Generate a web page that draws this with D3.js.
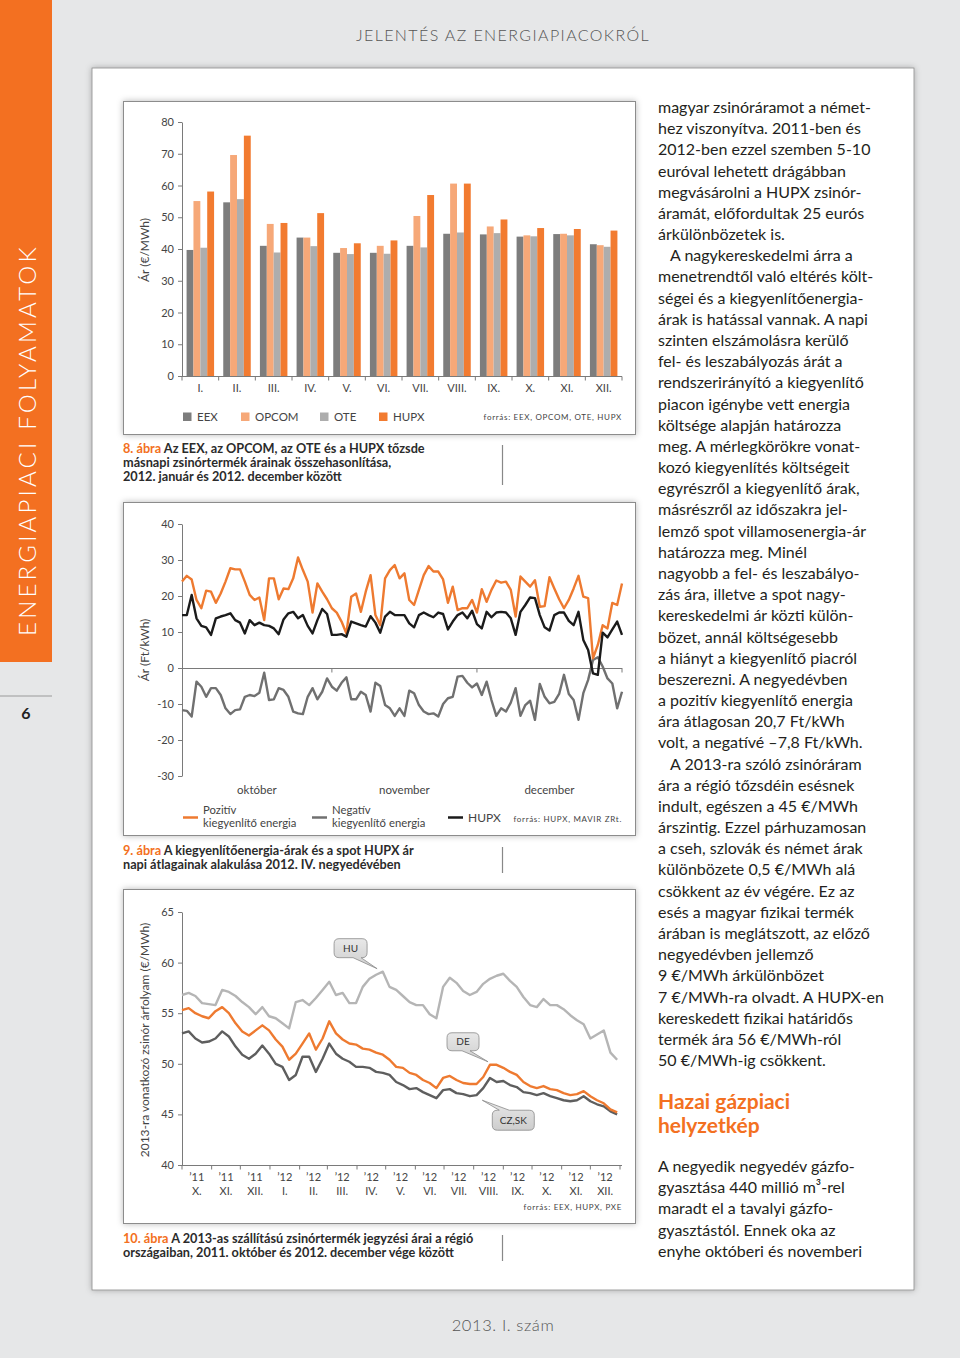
<!DOCTYPE html>
<html>
<head>
<meta charset="utf-8">
<script src="https://cdn.jsdelivr.net/npm/d3@7"></script>
<style>
body { margin: 0; background: #e6e7e8; }
svg { display: block; }
text { font-family: Lato, "Open Sans", sans-serif; }
</style>
</head>
<body>
<svg id="page" width="960" height="1358"></svg>
<script>
// 8. ábra - havi átlagárak
var months = ["I.", "II.", "III.", "IV.", "V.", "VI.", "VII.", "VIII.", "IX.", "X.", "XI.", "XII."];
var exchanges = ["EEX", "OPCOM", "OTE", "HUPX"];
var eex   = [39.7, 54.7, 41.0, 43.6, 38.8, 38.8, 41.0, 44.8, 44.6, 43.9, 44.7, 41.5];
var opcom = [55.1, 69.6, 47.9, 43.6, 40.3, 41.0, 50.4, 60.6, 47.1, 44.3, 44.8, 41.2];
var ote   = [40.4, 55.7, 38.9, 40.9, 38.4, 38.5, 40.5, 45.2, 45.0, 44.0, 44.3, 40.7];
var hupx  = [58.1, 75.7, 48.2, 51.3, 41.8, 42.7, 57.0, 60.6, 49.3, 46.6, 46.3, 45.8];
var barTicks = [0, 10, 20, 30, 40, 50, 60, 70, 80];

// 9. ábra - napi átlagok 2012. okt. 1. - dec. 31.
var pozitiv = [24.0,25.6,24.6,18.9,16.6,21.5,21.2,18.1,20.7,24.0, 27.7,27.4,27.4,24.0,20.3,18.9,19.6,13.3,24.9,24.9,
	19.1,22.1,21.9,24.9,30.7,27.2,24.0,15.4,23.5,21.2, 19.1,16.6,15.4,12.9,9.6,19.8,20.7,15.6,21.2,25.8,
	14.7,11.9,24.9,27.2,28.6,24.9, 26.3,18.9,17.5,21.7, 25.8,28.3,26.8,26.8,24.6,18.1,22.6,16.1,16.6,16.6,
	18.9,15.4,21.9,18.4,21.7,24.3,23.7,24.0,21.7,14.3, 25.4,24.0,22.6,24.4,17.0,17.2,25.2,22.1,19.1,16.6,
	18.9,22.1,25.6,19.8,19.4,2.7,6.4,11.9,11.0,18.1, 17.5,23.5];
var negativ = [-11.7,-11.9,-13.5,-3.8,-5.2,-8.0,-5.6,-5.6,-7.5,-11.2, -12.8,-11.7,-11.5,-8.0,-7.5,-7.8,-6.9,-1.3,-8.9,-8.7,
	-5.6,-6.1,-8.0,-12.1,-12.6,-12.8,-8.0,-5.6,-8.7,-6.6, -2.9,-5.2,-6.3,-4.1,-2.6,-8.7,-8.7,-6.6,-7.5,-12.1,
	-4.1,-5.0,-10.3,-11.2,-13.3,-11.2, -13.3,-6.3,-7.0,-10.3, -12.1,-12.8,-12.6,-13.5,-10.0,-8.4,-8.0,-2.4,-2.2,-4.1,
	-5.4,-4.3,-7.5,-3.8,-8.9,-13.3,-11.2,-12.1,-9.6,-5.6, -13.3,-10.3,-9.1,-14.4,-4.4,-8.0,-9.8,-9.4,-7.2,-1.9,
	-7.2,-8.9,-14.4,-7.0,-3.3,2.2,3.0,0.4,-2.9,-4.3, -11.2,-6.6];
var hupxDaily = [14.7,14.7,20.3,13.8,11.7,11.3,9.2,13.8,14.3,14.7, 15.2,13.3,12.6,9.6,13.3,11.9,12.6,11.9,11.7,11.0,
	9.4,13.5,15.2,15.6,13.8,14.7,11.7,9.6,13.3,16.4, 15.0,9.2,9.2,9.4,8.7,12.9,12.4,11.9,11.5,14.4,
	12.6,9.8,14.3,15.6,14.7,14.7, 14.7,12.4,11.3,14.7, 15.4,14.7,14.1,15.4,15.0,10.7,12.9,14.7,15.4,13.8,
	15.9,12.2,11.0,15.6,14.1,15.4,15.6,15.4,13.8,9.2, 15.6,17.5,19.6,19.4,14.7,11.3,10.4,14.7,15.4,15.4,
	13.1,11.9,15.6,7.8,5.0,-1.5,-1.9,9.8,8.5,10.7, 12.9,9.2];
var balanceTicks = [-30, -20, -10, 0, 10, 20, 30, 40];
var balanceMonths = ["október", "november", "december"];

// 10. ábra - heti jegyzések 2011. okt. - 2012. dec.
var huQuote = [56.8,57.0,56.7,56.0,55.9,55.8,57.3,57.1,56.7,56.1, 55.6,54.9,55.6,54.7,54.5,54.0,53.5,56.1,56.3,55.8,
	56.5,57.3,58.1,56.8,57.0,56.0,56.0,57.6,58.4,58.8, 59.1,57.6,57.3, 56.7,56.1,55.8,55.8,54.9,54.5,57.6,58.5,58.0,
	57.2,56.8,57.1,57.9,58.4,58.7,58.9,58.2,57.6,56.6, 55.8,55.6,56.4,55.8,55.8,55.4,54.8,54.3,53.9,52.5,
	52.9,53.3,51.1,50.4];
var deQuote = [55.3,55.5,55.0,54.7,54.5,55.2,55.6,55.0,54.0,53.2, 52.8,53.3,53.8,53.3,52.4,51.7,50.4,51.0,52.0,53.0,
	51.4,52.5,54.2,53.0,52.4,52.0,51.9,51.5,51.4,51.1, 50.9,50.4,49.7, 49.6,49.1,48.9,48.4,48.1,47.6,48.6,48.8,48.4,
	48.1,48.0,48.0,48.7,49.9,49.9,49.6,49.2,48.9,48.2, 47.8,47.6,47.8,47.5,47.4,47.1,46.9,47.0,47.3,46.8,
	46.4,46.1,45.5,45.2];
var czskQuote = [53.0,53.2,52.5,52.1,52.2,52.5,53.2,52.7,51.7,50.9, 50.5,51.0,51.8,51.0,50.0,49.7,48.4,48.9,50.7,50.7,
	49.2,50.5,52.0,51.0,50.5,50.2,49.7,49.7,49.6,49.2, 49.1,48.9,48.2, 47.9,47.5,47.6,47.2,46.9,46.6,47.4,47.5,47.1,
	47.0,46.8,46.9,47.6,48.6,48.2,48.3,47.9,47.7,47.2, 47.1,46.9,47.1,46.8,46.6,46.4,46.3,46.4,46.8,46.3,
	46.0,45.8,45.3,45.0];
var quoteTicks = [40, 45, 50, 55, 60, 65];
var quoteYears = ["’11","’11","’11","’12","’12","’12","’12","’12","’12","’12","’12","’12","’12","’12","’12"];
var quoteMonths = ["X.","XI.","XII.","I.","II.","III.","IV.","V.","VI.","VII.","VIII.","IX.","X.","XI.","XII."];

var orange = "#f37021",
	axisCol = "#7a7a7a",
	labelCol = "#444";

var svg = d3.select("#page");
var defs = svg.append("defs");
var sh = defs.append("filter").attr("id", "shadow")
	.attr("x", "-3%").attr("y", "-3%").attr("width", "106%").attr("height", "106%");
sh.append("feDropShadow").attr("dx", 0).attr("dy", 0).attr("stdDeviation", 3)
	.attr("flood-color", "#000").attr("flood-opacity", 0.28);
var bg = defs.append("linearGradient").attr("id", "bubble").attr("x1", 0).attr("y1", 0).attr("x2", 0).attr("y2", 1);
bg.append("stop").attr("offset", "0%").attr("stop-color", "#e8e8e8");
bg.append("stop").attr("offset", "100%").attr("stop-color", "#cdcdcd");

// page frame
svg.append("rect").attr("width", 960).attr("height", 1358).attr("fill", "#e6e7e8");
svg.append("rect").attr("x", 0).attr("y", 0).attr("width", 52).attr("height", 662).attr("fill", orange);
svg.append("text")
	.attr("transform", "translate(36,440) rotate(-90)")
	.attr("text-anchor", "middle")
	.attr("fill", "#fff")
	.style("font-size", "24px")
	.style("font-weight", 300)
	.style("letter-spacing", "3.2px")
	.text("ENERGIAPIACI FOLYAMATOK");
svg.append("line").attr("x1", 0).attr("x2", 52).attr("y1", 696).attr("y2", 696)
	.attr("stroke", "#9a9a9a").attr("stroke-width", 1);
svg.append("text").attr("x", 26).attr("y", 719).attr("text-anchor", "middle")
	.style("font-size", "16px").style("font-weight", "bold").attr("fill", "#222").text("6");

svg.append("text").attr("x", 503).attr("y", 41).attr("text-anchor", "middle")
	.attr("fill", "#555").style("font-size", "16px").style("font-weight", 300)
	.style("letter-spacing", "1.4px")
	.text("JELENTÉS AZ ENERGIAPIACOKRÓL");
svg.append("text").attr("x", 503).attr("y", 1331).attr("text-anchor", "middle")
	.attr("fill", "#555").style("font-size", "16.5px").style("font-weight", 300)
	.style("letter-spacing", "0.6px")
	.text("2013. I. szám");

svg.append("rect").attr("x", 92).attr("y", 68).attr("width", 822).attr("height", 1222)
	.attr("fill", "#fff").attr("stroke", "#8a8a8a").attr("stroke-width", 0.8)
	.attr("filter", "url(#shadow)");

function box(y, h) {
	svg.append("rect").attr("x", 123.5).attr("y", y + 0.5).attr("width", 512).attr("height", h)
		.attr("fill", "#fff").attr("stroke", "#8c8c8c").attr("stroke-width", 1)
		.attr("filter", "url(#shadow)");
}
box(101, 333);
box(502, 333);
box(889, 334);

function styleAxis(g) {
	g.selectAll("path, line").attr("stroke", axisCol).attr("stroke-width", 1);
	g.selectAll("text").attr("fill", labelCol).style("font-size", "11px")
		.style("font-family", "Lato, sans-serif");
}

function yTitle(txt, cy) {
	svg.append("text").attr("transform", "translate(149," + cy + ") rotate(-90)")
		.attr("text-anchor", "middle").attr("fill", labelCol).style("font-size", "12px").text(txt);
}

function caption(num, lines, y) {
	var t = svg.append("text").attr("x", 123).attr("y", y)
		.style("font-size", "12.7px").style("font-weight", "bold").attr("fill", "#2b2b2b");
	lines.forEach(function(l, i) {
		var ts = t.append("tspan").attr("x", 123).attr("y", y + i * 14);
		if (i == 0) {
			ts.append("tspan").attr("fill", orange).text(num + " ");
		}
		ts.append("tspan").text(l);
	});
	svg.append("line").attr("x1", 502.5).attr("x2", 502.5).attr("y1", y - 8).attr("y2", y + lines.length * 14 - 10)
		.attr("stroke", "#888").attr("stroke-width", 1.2);
}

function source(txt, y) {
	svg.append("text").attr("x", 622).attr("y", y).attr("text-anchor", "end")
		.attr("fill", labelCol).style("font-size", "8px").style("letter-spacing", "0.7px").text(txt);
}

// ---------- 8. ábra ----------
var series = [eex, opcom, ote, hupx];
var barColors = ["#7d7d7d", "#f6a878", "#adadad", "#f27b30"];
var x1 = d3.scaleBand().domain(months).range([182, 622]).paddingInner(0.25).paddingOuter(0.125);
var xs1 = d3.scaleBand().domain(exchanges).range([0, x1.bandwidth()]);
var y1 = d3.scaleLinear().domain([0, 80]).range([376, 122]);

var c1 = svg.append("g");
months.forEach(function(m, i) {
	c1.append("g").selectAll("rect").data(exchanges).enter().append("rect")
		.attr("x", function(e) { return x1(m) + xs1(e); })
		.attr("width", xs1.bandwidth())
		.attr("y", function(e, j) { return y1(series[j][i]); })
		.attr("height", function(e, j) { return y1(0) - y1(series[j][i]); })
		.attr("fill", function(e, j) { return barColors[j]; });
});
c1.append("g").attr("transform", "translate(182,0)")
	.call(d3.axisLeft(y1).tickValues(barTicks).tickSize(4).tickSizeOuter(0).tickPadding(4))
	.call(styleAxis);
var step1 = x1.step();
var bounds1 = [182].concat(months.map(function(m) { return x1(m) + x1.bandwidth() + (step1 - x1.bandwidth()) / 2; }));
bounds1[bounds1.length - 1] = 622;
c1.append("line").attr("x1", 182).attr("x2", 622).attr("y1", 376.5).attr("y2", 376.5).attr("stroke", axisCol);
c1.selectAll(".bt").data(bounds1).enter().append("line")
	.attr("x1", function(d) { return d; }).attr("x2", function(d) { return d; })
	.attr("y1", 376.5).attr("y2", 380.5).attr("stroke", axisCol);
c1.selectAll(".ml").data(months).enter().append("text")
	.attr("x", function(m) { return x1(m) + x1.bandwidth() / 2; })
	.attr("y", 392).attr("text-anchor", "middle")
	.attr("fill", labelCol).style("font-size", "11px").text(function(m) { return m; });
yTitle("Ár (€/MWh)", 250);

var legX = [183, 241, 320, 379];
exchanges.forEach(function(e, j) {
	svg.append("rect").attr("x", legX[j]).attr("y", 412.5).attr("width", 8.5).attr("height", 8.5).attr("fill", barColors[j]);
	svg.append("text").attr("x", legX[j] + 14).attr("y", 421).attr("fill", labelCol)
		.style("font-size", "11.5px").text(e);
});
source("forrás: EEX, OPCOM, OTE, HUPX", 420);
caption("8. ábra", ["Az EEX, az OPCOM, az OTE és a HUPX tőzsde", "másnapi zsinórtermék árainak összehasonlítása,", "2012. január és 2012. december között"], 453);

// ---------- 9. ábra ----------
var d0 = new Date(2012, 9, 1);
var x2 = d3.scaleTime().domain([d0, new Date(2012, 11, 31)]).range([182, 622]);
var y2 = d3.scaleLinear().domain([-30, 40]).range([776, 524]);
var line2 = d3.line()
	.x(function(d, i) { return x2(d3.timeDay.offset(d0, i)); })
	.y(function(d) { return y2(d); });
var c2 = svg.append("g");
c2.append("g").attr("transform", "translate(182,0)")
	.call(d3.axisLeft(y2).tickValues(balanceTicks).tickSize(4).tickSizeOuter(0).tickPadding(4)
		.tickFormat(function(d) { return d; }))
	.call(styleAxis);
c2.append("line").attr("x1", 182).attr("x2", 622).attr("y1", y2(0) + 0.5).attr("y2", y2(0) + 0.5).attr("stroke", axisCol);
var mb = [new Date(2012, 10, 1), new Date(2012, 11, 1), new Date(2012, 11, 31)];
c2.selectAll(".mt").data(mb).enter().append("line")
	.attr("x1", function(d) { return x2(d); }).attr("x2", function(d) { return x2(d); })
	.attr("y1", y2(0)).attr("y2", y2(0) + 4.5).attr("stroke", axisCol);
[[negativ, "#707070"], [pozitiv, "#ee7a30"], [hupxDaily, "#1b1b1b"]].forEach(function(s) {
	c2.append("path").datum(s[0]).attr("d", line2)
		.attr("fill", "none").attr("stroke", s[1]).attr("stroke-width", 2.4).attr("stroke-linejoin", "round");
});
var mStart = [d0, new Date(2012, 10, 1), new Date(2012, 11, 1)];
var mEnd = [new Date(2012, 10, 1), new Date(2012, 11, 1), new Date(2012, 11, 31)];
c2.selectAll(".mlab").data(balanceMonths).enter().append("text")
	.attr("x", function(d, i) { return (x2(mStart[i]) + x2(mEnd[i])) / 2; })
	.attr("y", 794).attr("text-anchor", "middle").attr("fill", labelCol)
	.style("font-size", "11.5px").text(function(d) { return d; });
yTitle("Ár (Ft/kWh)", 650);

var leg2 = [
	{ x: 183, col: "#ee7a30", t: ["Pozitív", "kiegyenlítő energia"] },
	{ x: 312, col: "#707070", t: ["Negatív", "kiegyenlítő energia"] },
	{ x: 448, col: "#1b1b1b", t: ["HUPX"] }
];
leg2.forEach(function(l) {
	svg.append("line").attr("x1", l.x).attr("x2", l.x + 15).attr("y1", 817.5).attr("y2", 817.5)
		.attr("stroke", l.col).attr("stroke-width", 2.5);
	if (l.t.length == 2) {
		l.t.forEach(function(s, k) {
			svg.append("text").attr("x", l.x + 20).attr("y", 814 + k * 13).attr("fill", labelCol)
				.style("font-size", "11.3px").text(s);
		});
	} else {
		svg.append("text").attr("x", l.x + 20).attr("y", 822).attr("fill", labelCol)
			.style("font-size", "12px").text(l.t[0]);
	}
});
source("forrás: HUPX, MAVIR ZRt.", 822);
caption("9. ábra", ["A kiegyenlítőenergia-árak és a spot HUPX ár", "napi átlagainak alakulása 2012. IV. negyedévében"], 855);

// ---------- 10. ábra ----------
var q0 = new Date(2011, 9, 1);
var x3 = d3.scaleTime().domain([q0, new Date(2013, 0, 1)]).range([182, 620]);
var y3 = d3.scaleLinear().domain([40, 65]).range([1165, 912]);
var line3 = d3.line()
	.x(function(d, i) { return x3(d3.timeDay.offset(q0, i * 7)); })
	.y(function(d) { return y3(d); });
var c3 = svg.append("g");
c3.append("g").attr("transform", "translate(182,0)")
	.call(d3.axisLeft(y3).tickValues(quoteTicks).tickSize(4).tickSizeOuter(0).tickPadding(4))
	.call(styleAxis);
var qm = d3.timeMonth.range(q0, new Date(2013, 0, 2));
c3.append("line").attr("x1", 182).attr("x2", 622).attr("y1", 1165.5).attr("y2", 1165.5).attr("stroke", axisCol);
c3.selectAll(".qt").data(qm).enter().append("line")
	.attr("x1", function(d) { return x3(d); }).attr("x2", function(d) { return x3(d); })
	.attr("y1", 1165.5).attr("y2", 1169.5).attr("stroke", axisCol);
var qLab = c3.selectAll(".ql").data(quoteMonths).enter().append("text")
	.attr("text-anchor", "middle").attr("fill", labelCol).style("font-size", "11px");
qLab.append("tspan")
	.attr("x", function(d, i) { return (x3(qm[i]) + x3(qm[i + 1])) / 2; })
	.attr("y", 1181).text(function(d, i) { return quoteYears[i]; });
qLab.append("tspan")
	.attr("x", function(d, i) { return (x3(qm[i]) + x3(qm[i + 1])) / 2; })
	.attr("y", 1195).text(function(d) { return d; });
[[huQuote, "#b5b5b5"], [czskQuote, "#5e5e5e"], [deQuote, "#ee7a30"]].forEach(function(s) {
	c3.append("path").datum(s[0]).attr("d", line3)
		.attr("fill", "none").attr("stroke", s[1]).attr("stroke-width", 2.4).attr("stroke-linejoin", "round");
});
yTitle("2013-ra vonatkozó zsinór árfolyam (€/MWh)", 1040);
source("forrás: EEX, HUPX, PXE", 1210);
caption("10. ábra", ["A 2013-as szállítású zsinórtermék jegyzési árai a régió", "országaiban, 2011. október és 2012. december vége között"], 1243);

// buborékok
var notes = [
	{ label: "HU",    day: 204, value: 59.4, dx: -43, dy: -30, w: 33, h: 19, b1: 19, b2: 27, top: false },
	{ label: "DE",    day: 320, value: 50.2, dx: -41, dy: -29, w: 32, h: 18, b1: 15, b2: 23, top: false },
	{ label: "CZ,SK", day: 314, value: 46.4, dx: 10,  dy: 10,  w: 42, h: 20, b1: 7,  b2: 17, top: true }
];
notes.forEach(function(n) {
	var tx = x3(d3.timeDay.offset(q0, n.day)), ty = y3(n.value);
	var x = tx + n.dx, y = ty + n.dy, w = n.w, h = n.h, r = 5;
	var p = d3.path();
	p.moveTo(x + r, y);
	if (n.top) { p.lineTo(x + n.b1, y); p.lineTo(tx, ty); p.lineTo(x + n.b2, y); }
	p.lineTo(x + w - r, y);
	p.quadraticCurveTo(x + w, y, x + w, y + r);
	p.lineTo(x + w, y + h - r);
	p.quadraticCurveTo(x + w, y + h, x + w - r, y + h);
	if (!n.top) { p.lineTo(x + n.b2, y + h); p.lineTo(tx, ty); p.lineTo(x + n.b1, y + h); }
	p.lineTo(x + r, y + h);
	p.quadraticCurveTo(x, y + h, x, y + h - r);
	p.lineTo(x, y + r);
	p.quadraticCurveTo(x, y, x + r, y);
	p.closePath();
	svg.append("path").attr("d", p.toString()).attr("fill", "url(#bubble)")
		.attr("stroke", "#8a8a8a").attr("stroke-width", 0.8);
	svg.append("text").attr("x", x + w / 2).attr("y", y + h / 2 + 3.5).attr("text-anchor", "middle")
		.attr("fill", "#333").style("font-size", "10px").text(n.label);
});

// jobb hasáb
var bodyLines = [
	"magyar zsinóráramot a német-", "hez viszonyítva. 2011-ben és", "2012-ben ezzel szemben 5-10",
	"euróval lehetett drágábban", "megvásárolni a HUPX zsinór-", "áramát, előfordultak 25 eurós",
	"árkülönbözetek is.", "\u2003A nagykereskedelmi árra a", "menetrendtől való eltérés költ-",
	"ségei és a kiegyenlítőenergia-", "árak is hatással vannak. A napi", "szinten elszámolásra kerülő",
	"fel- és leszabályozás árát a", "rendszerirányító a kiegyenlítő", "piacon igénybe vett energia",
	"költsége alapján határozza", "meg. A mérlegkörökre vonat-", "kozó kiegyenlítés költségeit",
	"egyrészről a kiegyenlítő árak,", "másrészről az időszakra jel-", "lemző spot villamosenergia-ár",
	"határozza meg. Minél", "nagyobb a fel- és leszabályo-", "zás ára, illetve a spot nagy-",
	"kereskedelmi ár közti külön-", "bözet, annál költségesebb", "a hiányt a kiegyenlítő piacról",
	"beszerezni. A negyedévben", "a pozitív kiegyenlítő energia", "ára átlagosan 20,7 Ft/kWh",
	"volt, a negatívé –7,8 Ft/kWh.", "\u2003A 2013-ra szóló zsinóráram", "ára a régió tőzsdéin esésnek",
	"indult, egészen a 45 €/MWh", "árszintig. Ezzel párhuzamosan", "a cseh, szlovák és német árak",
	"különbözete 0,5 €/MWh alá", "csökkent az év végére. Ez az", "esés a magyar fizikai termék",
	"árában is meglátszott, az előző", "negyedévben jellemző", "9 €/MWh árkülönbözet",
	"7 €/MWh-ra olvadt. A HUPX-en", "kereskedett fizikai határidős", "termék ára 56 €/MWh-ról",
	"50 €/MWh-ig csökkent."
];
var gasLines = ["A negyedik negyedév gázfo-", "gyasztása 440 millió m³-rel", "maradt el a tavalyi gázfo-",
	"gyasztástól. Ennek oka az", "enyhe októberi és novemberi"];

var body = svg.append("text").attr("fill", "#231f20").style("font-size", "16px");
bodyLines.forEach(function(l, i) {
	body.append("tspan").attr("x", 658).attr("y", 113 + i * 21.18).text(l);
});
svg.append("text").attr("fill", orange).style("font-size", "21px").style("font-weight", "bold")
	.selectAll("tspan").data(["Hazai gázpiaci", "helyzetkép"]).enter().append("tspan")
	.attr("x", 658).attr("y", function(d, i) { return 1109 + i * 24; }).text(function(d) { return d; });
var gas = svg.append("text").attr("fill", "#231f20").style("font-size", "16px");
gasLines.forEach(function(l, i) {
	gas.append("tspan").attr("x", 658).attr("y", 1172 + i * 21.18).text(l);
});
</script>
</body>
</html>
